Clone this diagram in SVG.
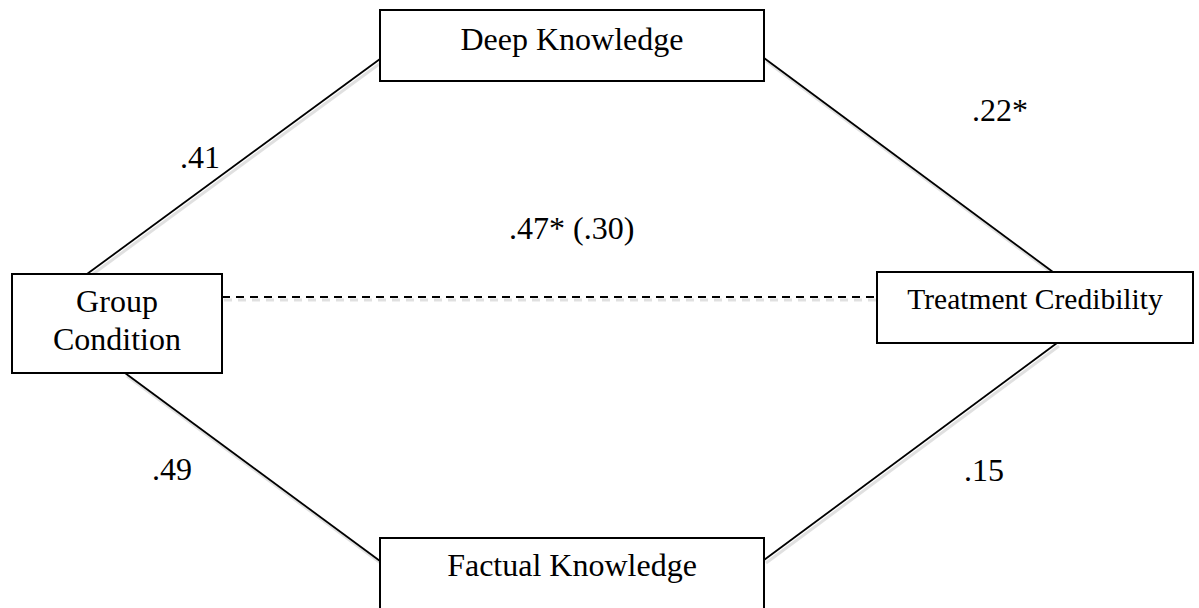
<svg xmlns="http://www.w3.org/2000/svg" width="1199" height="608" viewBox="0 0 1199 608">
<style>
.box{fill:#fff;stroke:#000;stroke-width:2}
.t{font-family:"Liberation Serif","Times New Roman",serif;font-size:32px;fill:#000}
.c{stroke:#000;stroke-width:1.8;fill:none}
.sh{stroke:#000;stroke-opacity:0.12;stroke-width:3;fill:none}
</style>
<rect width="1199" height="608" fill="#fff"/>
<g id="connectors">
<g transform="translate(2,3)">
<line class="sh" x1="87" y1="274" x2="380" y2="59"/>
<line class="sh" x1="764" y1="58" x2="1053" y2="272"/>
<line class="sh" x1="125" y1="373" x2="380" y2="561"/>
<line class="sh" x1="1057" y1="343" x2="764" y2="560"/>
<line class="sh" x1="222" y1="297" x2="877" y2="297" stroke-dasharray="8,6"/>
</g>
<line class="c" x1="87" y1="274" x2="380" y2="59"/>
<line class="c" x1="764" y1="58" x2="1053" y2="272"/>
<line class="c" x1="125" y1="373" x2="380" y2="561"/>
<line class="c" x1="1057" y1="343" x2="764" y2="560"/>
<line class="c" x1="222" y1="297" x2="877" y2="297" stroke-dasharray="8,6"/>
<text class="t" x="180" y="168">.41</text>
<text class="t" x="972" y="121">.22*</text>
<text class="t" x="509" y="239">.47* (.30)</text>
<text class="t" x="152" y="480">.49</text>
<text class="t" x="964" y="481">.15</text>
</g>
<g id="deep">
<rect class="box" x="380" y="10" width="384" height="71"/>
<text class="t" x="572" y="50" text-anchor="middle">Deep Knowledge</text>
</g>
<g id="group">
<rect class="box" x="12" y="274" width="210" height="99"/>
<text class="t" x="117" y="312" text-anchor="middle">Group</text>
<text class="t" x="117" y="350" text-anchor="middle">Condition</text>
</g>
<g id="treatment">
<rect class="box" x="877" y="272" width="316" height="71"/>
<text class="t" x="1035" y="309" text-anchor="middle" style="font-size:29.5px">Treatment Credibility</text>
</g>
<g id="factual">
<rect class="box" x="380" y="538" width="384" height="80"/>
<text class="t" x="572" y="576" text-anchor="middle">Factual Knowledge</text>
</g>
</svg>
